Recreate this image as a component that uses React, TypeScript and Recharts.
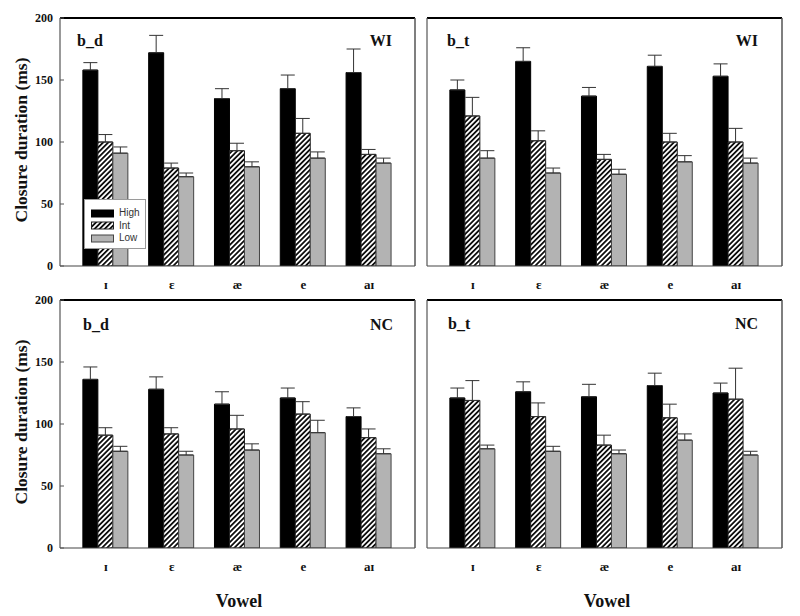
import React from 'react';
import { BarChart, Bar, XAxis, YAxis, ErrorBar, Legend, ReferenceLine } from 'recharts';

const vowels = ['ɪ', 'ɛ', 'æ', 'e', 'aɪ'];
const yTicks = [0, 50, 100, 150, 200];

// b_d, WI
const bdWiHigh = [158, 172, 135, 143, 156];
const bdWiHighErr = [6, 14, 8, 11, 19];
const bdWiInt = [100, 79, 93, 107, 90];
const bdWiIntErr = [6, 4, 6, 12, 4];
const bdWiLow = [91, 72, 80, 87, 83];
const bdWiLowErr = [5, 3, 4, 5, 4];

// b_t, WI
const btWiHigh = [142, 165, 137, 161, 153];
const btWiHighErr = [8, 11, 7, 9, 10];
const btWiInt = [121, 101, 86, 100, 100];
const btWiIntErr = [15, 8, 4, 7, 11];
const btWiLow = [87, 75, 74, 84, 83];
const btWiLowErr = [6, 4, 4, 5, 4];

// b_d, NC
const bdNcHigh = [136, 128, 116, 121, 106];
const bdNcHighErr = [10, 10, 10, 8, 7];
const bdNcInt = [91, 92, 96, 108, 89];
const bdNcIntErr = [6, 5, 11, 10, 7];
const bdNcLow = [78, 75, 79, 93, 76];
const bdNcLowErr = [4, 3, 5, 10, 4];

// b_t, NC
const btNcHigh = [121, 126, 122, 131, 125];
const btNcHighErr = [8, 8, 10, 10, 8];
const btNcInt = [119, 106, 83, 105, 120];
const btNcIntErr = [16, 11, 8, 11, 25];
const btNcLow = [80, 78, 76, 87, 75];
const btNcLowErr = [3, 4, 3, 5, 3];

function buildData(high: number[], highErr: number[], int: number[], intErr: number[], low: number[], lowErr: number[]) {
  return vowels.map((v, i) => ({
    vowel: v,
    High: high[i],
    HighErr: [0, highErr[i]],
    Int: int[i],
    IntErr: [0, intErr[i]],
    Low: low[i],
    LowErr: [0, lowErr[i]],
  }));
}

const SERIF = '"Liberation Serif", "DejaVu Serif", "Times New Roman", serif';
const SANS = '"Liberation Sans", Arial, sans-serif';

const seriesStyle: Record<string, { fill: string; stroke: string }> = {
  High: { fill: '#000000', stroke: '#000000' },
  Int: { fill: 'url(#hatch)', stroke: '#222222' },
  Low: { fill: '#b3b3b3', stroke: '#444444' },
};

const renderLegend = (props: any) => {
  const payload = props.payload || [];
  return (
    <div
      style={{
        background: '#fff',
        border: '1px solid #9a9a9a',
        width: 62,
        height: 50,
        boxSizing: 'border-box',
        padding: '7px 0 0 6px',
      }}
    >
      {payload.map((entry: any) => {
        const st = seriesStyle[entry.value] || { fill: entry.color, stroke: '#222' };
        return (
          <div key={entry.value} style={{ display: 'flex', alignItems: 'center', height: 12.5 }}>
            <svg width={24} height={9} style={{ display: 'block' }}>
              <rect x={0.5} y={1} width={22} height={7} fill={st.fill} stroke={st.stroke} strokeWidth={1} />
            </svg>
            <span style={{ fontFamily: SANS, fontSize: 10, color: '#333', marginLeft: 4, lineHeight: '12px' }}>
              {entry.value}
            </span>
          </div>
        );
      })}
    </div>
  );
};

type PanelProps = {
  data: any[];
  left: number;
  top: number;
  showYLabels: boolean;
  showLegend?: boolean;
};

function Panel({ data, left, top, showYLabels, showLegend }: PanelProps) {
  return (
    <div style={{ position: 'absolute', left, top, width: 417, height: 300 }}>
      <BarChart
        width={417}
        height={300}
        data={data}
        margin={{ top: 18, right: 1, left: 0, bottom: 4 }}
        barCategoryGap="15%"
        barGap={0}
      >
        <XAxis
          dataKey="vowel"
          height={30}
          padding={{ left: 13, right: 13 }}
          tickLine={false}
          tickSize={0}
          tickMargin={14}
          interval={0}
          axisLine={{ stroke: '#444', strokeWidth: 1.2 }}
          tick={{ fontFamily: SERIF, fontSize: 13, fontWeight: 'bold', fill: '#111' }}
        />
        <YAxis
          yAxisId="l"
          width={60}
          domain={[0, 200]}
          ticks={yTicks}
          allowDataOverflow
          tickSize={-4}
          tickMargin={11}
          axisLine={{ stroke: '#555', strokeWidth: 1.2 }}
          tickLine={{ stroke: '#555' }}
          tick={showYLabels ? { fontFamily: SERIF, fontSize: 12, fontWeight: 'bold', fill: '#111' } : false}
        />
        <YAxis
          yAxisId="r"
          orientation="right"
          width={1}
          domain={[0, 200]}
          ticks={yTicks}
          allowDataOverflow
          tickSize={-4}
          tick={false}
          axisLine={{ stroke: '#555', strokeWidth: 1.5 }}
          tickLine={{ stroke: '#555' }}
        />
        <ReferenceLine yAxisId="l" y={200} stroke="#000" strokeWidth={2} />
        <Bar yAxisId="l" dataKey="High" name="High" fill={seriesStyle.High.fill} stroke={seriesStyle.High.stroke} strokeWidth={1} isAnimationActive={false}>
          <ErrorBar dataKey="HighErr" width={7} stroke="#333" strokeWidth={1} direction="y" />
        </Bar>
        <Bar yAxisId="l" dataKey="Int" name="Int" fill={seriesStyle.Int.fill} stroke={seriesStyle.Int.stroke} strokeWidth={1} isAnimationActive={false}>
          <ErrorBar dataKey="IntErr" width={7} stroke="#333" strokeWidth={1} direction="y" />
        </Bar>
        <Bar yAxisId="l" dataKey="Low" name="Low" fill={seriesStyle.Low.fill} stroke={seriesStyle.Low.stroke} strokeWidth={1} isAnimationActive={false}>
          <ErrorBar dataKey="LowErr" width={7} stroke="#333" strokeWidth={1} direction="y" />
        </Bar>
        {showLegend && (
          <Legend
            layout="vertical"
            align="center"
            verticalAlign="middle"
            content={renderLegend}
            wrapperStyle={{ position: 'absolute', left: 84, top: 199, width: 62, height: 50 }}
          />
        )}
      </BarChart>
    </div>
  );
}

const titleStyle = { fontFamily: SERIF, fontSize: 16, fontWeight: 'bold' as const, fill: '#111' };

export default function App() {
  const dBdWi = buildData(bdWiHigh, bdWiHighErr, bdWiInt, bdWiIntErr, bdWiLow, bdWiLowErr);
  const dBtWi = buildData(btWiHigh, btWiHighErr, btWiInt, btWiIntErr, btWiLow, btWiLowErr);
  const dBdNc = buildData(bdNcHigh, bdNcHighErr, bdNcInt, bdNcIntErr, bdNcLow, bdNcLowErr);
  const dBtNc = buildData(btNcHigh, btNcHighErr, btNcInt, btNcIntErr, btNcLow, btNcLowErr);
  return (
    <div style={{ position: 'absolute', left: 0, top: 0, width: 800, height: 616, background: '#fff', overflow: 'hidden' }}>
      <svg width={0} height={0} style={{ position: 'absolute' }}>
        <defs>
          <pattern id="hatch" patternUnits="userSpaceOnUse" width={3.6} height={3.6} patternTransform="rotate(45)">
            <rect x={0} y={0} width={3.6} height={3.6} fill="#fff" />
            <line x1={0.9} y1={0} x2={0.9} y2={3.6} stroke="#000" strokeWidth={1.7} />
          </pattern>
        </defs>
      </svg>
      <Panel data={dBdWi} left={0} top={0} showYLabels showLegend />
      <Panel data={dBtWi} left={367} top={0} showYLabels={false} />
      <Panel data={dBdNc} left={0} top={282} showYLabels />
      <Panel data={dBtNc} left={367} top={282} showYLabels={false} />
      <svg width={800} height={616} style={{ position: 'absolute', left: 0, top: 0, pointerEvents: 'none' }}>
        <text x={77} y={46} {...titleStyle}>b_d</text>
        <text x={392} y={46} textAnchor="end" {...titleStyle}>WI</text>
        <text x={447} y={46} {...titleStyle}>b_t</text>
        <text x={758} y={46} textAnchor="end" {...titleStyle}>WI</text>
        <text x={83} y={330} {...titleStyle}>b_d</text>
        <text x={393} y={330} textAnchor="end" {...titleStyle}>NC</text>
        <text x={448} y={329} {...titleStyle}>b_t</text>
        <text x={758} y={329} textAnchor="end" {...titleStyle}>NC</text>
        <text
          x={21}
          y={140}
          transform="rotate(-90 21 140)"
          textAnchor="middle"
          dominantBaseline="central"
          fontFamily={SERIF}
          fontSize={17.5}
          fontWeight="bold"
          fill="#111"
        >
          Closure duration (ms)
        </text>
        <text
          x={21}
          y={422}
          transform="rotate(-90 21 422)"
          textAnchor="middle"
          dominantBaseline="central"
          fontFamily={SERIF}
          fontSize={17.5}
          fontWeight="bold"
          fill="#111"
        >
          Closure duration (ms)
        </text>
        <text x={239} y={607} textAnchor="middle" fontFamily={SERIF} fontSize={18} fontWeight="bold" fill="#111">Vowel</text>
        <text x={607} y={607} textAnchor="middle" fontFamily={SERIF} fontSize={18} fontWeight="bold" fill="#111">Vowel</text>
      </svg>
    </div>
  );
}
